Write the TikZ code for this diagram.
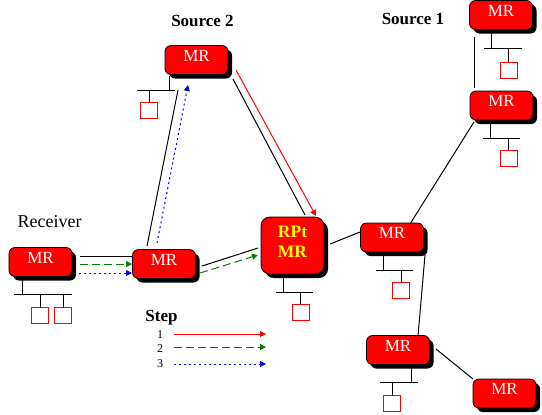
\documentclass[tikz,border=0pt]{standalone}
\usepackage{fontspec}
\setmainfont{Liberation Serif}
\usetikzlibrary{arrows.meta}
\definecolor{mrred}{RGB}{255,0,0}
\definecolor{stepgreen}{RGB}{0,128,0}
\definecolor{stepblue}{RGB}{0,0,255}
\definecolor{rptyellow}{RGB}{255,255,0}
\tikzset{
  router/.style={rectangle, rounded corners=6bp, draw=black, line width=0.8bp,
    fill=mrred, minimum width=63bp, minimum height=29bp, inner sep=0pt,
    text=white, font=\fontsize{17bp}{19bp}\selectfont,
    text height=10bp, text depth=7.4bp,
    preaction={fill=black, transform canvas={shift={(4bp,-4bp)}}}},
  rptbox/.style={router, rounded corners=9bp, minimum height=57bp,
    text height=, text depth=},
  rpttext/.style={text=rptyellow, font=\bfseries\fontsize{17.5bp}{20bp}\selectfont,
    align=center, inner sep=0pt},
  host/.style={rectangle, draw=mrred, fill=white, line width=1bp,
    minimum width=17bp, minimum height=16bp, inner sep=0pt},
  lan/.style={draw=black, line width=1bp},
  link/.style={draw=black, line width=1bp},
  tip/.style={-{Triangle[length=6bp,width=6bp]}},
  step1/.style={draw=mrred, line width=1bp, tip},
  step2/.style={draw=stepgreen, line width=1bp, dash pattern=on 8bp off 4bp, tip},
  step3/.style={draw=stepblue, line width=1bp, dash pattern=on 2bp off 3bp, tip},
  label/.style={font=\fontsize{18bp}{20bp}\selectfont, inner sep=0pt},
  blabel/.style={font=\bfseries\fontsize{17bp}{20bp}\selectfont, inner sep=0pt},
  digit/.style={font=\fontsize{12bp}{14bp}\selectfont, inner sep=0pt}
}
\begin{document}
\begin{tikzpicture}[x=1bp,y=-1bp]
\useasboundingbox[fill=white] (0,0) rectangle (542,414);

% routers
\node[router] (recv) at (40.5,262) {MR};
\node[router] (mid)  at (164,264) {MR};
\node[router] (src2) at (196.5,60) {MR};
\node[rptbox] (rpt)  at (292.5,245.5) {};
\node[rpttext] (rpttxt) at (292.5,242) {RPt\\MR};
\node[router] (hub)  at (392,237.5) {MR};
\node[router] (bl)   at (398,350) {MR};
\node[router] (br)   at (504.5,393.5) {MR};
\node[router] (s1t)  at (501,15) {MR};
\node[router] (s1l)  at (501.5,105.5) {MR};

% labels
\node[label]  (lrecv) at (49.5,222) {Receiver};
\node[blabel] (lsrc2) at (202.5,21) {Source 2};
\node[blabel] (lsrc1) at (413,19) {Source 1};

% hosts
\node[host] (hr1) at (40,315.5) {};
\node[host] (hr2) at (63,315.5) {};
\node[host] (hs2) at (149,110) {};
\node[host] (hrp) at (300.5,312.5) {};
\node[host] (hhb) at (401,290.5) {};
\node[host] (hbl) at (392,403) {};
\node[host] (hst) at (508.5,70) {};
\node[host] (hsl) at (508.5,158) {};

% LANs
\draw[lan] (22,278) -- (22,294); \draw[lan] (14,294) -- (72,294);
\draw[lan] (40,294) -- (hr1.north); \draw[lan] (63,294) -- (hr2.north);
\draw[lan] (169,76) -- (169,90); \draw[lan] (137,90) -- (175,90);
\draw[lan] (149,90) -- (hs2.north);
\draw[lan] (283,278) -- (283,292); \draw[lan] (276,292) -- (313,292);
\draw[lan] (300.5,292) -- (hrp.north);
\draw[lan] (383,253) -- (383,270); \draw[lan] (376,270) -- (413,270);
\draw[lan] (401,270) -- (hhb.north);
\draw[lan] (411,366) -- (411,382); \draw[lan] (380,382) -- (418,382);
\draw[lan] (392,382) -- (hbl.north);
\draw[lan] (491,30) -- (491,48); \draw[lan] (484,48) -- (522,48);
\draw[lan] (508.5,48) -- (hst.north);
\draw[lan] (490,121) -- (490,138); \draw[lan] (483,138) -- (520,138);
\draw[lan] (508.5,138) -- (hsl.north);

% links
\draw[link] ([shift={(39.5,-6)}]recv.center) -- ([shift={(-32,-8)}]mid.center);
\draw[link] ([shift={(-17,-18)}]mid.center) -- ([shift={(-18.5,30)}]src2.center);
\draw[link] ([shift={(36.5,19)}]src2.center) -- ([shift={(12.5,-30.5)}]rpt.center);
\draw[link] ([shift={(38,2)}]mid.center) -- ([shift={(-34.5,2.5)}]rpt.center);
\draw[link] ([shift={(37.5,-1.5)}]rpt.center) -- ([shift={(-32,-5.5)}]hub.center);
\draw[link] ([shift={(18,-13.5)}]hub.center) -- ([shift={(-27.5,16.5)}]s1l.center);
\draw[link] ([shift={(33,17.5)}]hub.center) -- ([shift={(20,-14)}]bl.center);
\draw[link] ([shift={(38,-1)}]bl.center) -- ([shift={(-31.5,-14.5)}]br.center);
\draw[link] ([shift={(-27,22)}]s1t.center) -- ([shift={(-27.5,-17.5)}]s1l.center);

% steps
\draw[step1] ([shift={(39.5,10)}]src2.center) -- ([shift={(23.5,-29.5)}]rpt.center);
\draw[step2] ([shift={(39.5,2)}]recv.center) -- ([shift={(-32,0)}]mid.center);
\draw[step2] ([shift={(36,9)}]mid.center) -- ([shift={(-34.5,9.5)}]rpt.center);
\draw[step3] ([shift={(33.5,11)}]recv.center) -- ([shift={(-32,9)}]mid.center);
\draw[step3] ([shift={(-7,-21)}]mid.center) -- ([shift={(-8.5,25)}]src2.center);

% legend
\node[blabel] (lstep) at (161.5,318) {Step};
\node[digit] (d1) at (160,335) {1};
\node[digit] (d2) at (160,349) {2};
\node[digit] (d3) at (160,364) {3};
\coordinate (l1a) at (174,334); \coordinate (l1b) at (266,334);
\coordinate (l2a) at (174,347); \coordinate (l2b) at (266,347);
\coordinate (l3a) at (174,364); \coordinate (l3b) at (266,364);
\draw[step1] (l1a) -- (l1b);
\draw[step2] (l2a) -- (l2b);
\draw[step3] (l3a) -- (l3b);
\end{tikzpicture}
\end{document}
